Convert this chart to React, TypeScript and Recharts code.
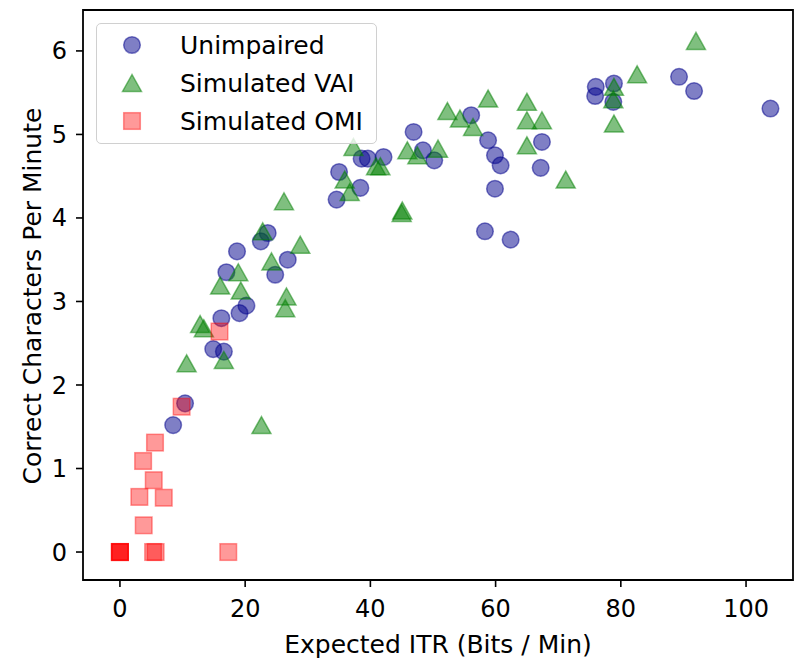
import { ScatterChart, Scatter, XAxis, YAxis, ReferenceArea, Legend, Label } from 'recharts'

// [Expected ITR, Correct characters per minute]
const unimpaired: [number, number][] = [
  [10.4, 1.78], [8.5, 1.52], [23.6, 3.82], [22.5, 3.72], [18.7, 3.6], [26.8, 3.5],
  [24.8, 3.32], [17.0, 3.35], [20.2, 2.95], [19.1, 2.86], [16.2, 2.8], [14.9, 2.43],
  [16.6, 2.4], [34.6, 4.22], [38.4, 4.36], [35.0, 4.55], [38.6, 4.71], [39.6, 4.71],
  [42.1, 4.73], [46.9, 5.03], [48.4, 4.81], [50.2, 4.69], [56.1, 5.23], [58.8, 4.93],
  [59.9, 4.75], [60.8, 4.63], [59.9, 4.35], [58.3, 3.84], [62.4, 3.74], [67.4, 4.91],
  [67.2, 4.6], [76.0, 5.57], [75.9, 5.46], [78.9, 5.61], [78.8, 5.39], [89.3, 5.69],
  [91.7, 5.52], [103.9, 5.31],
]

const simulatedVAI: [number, number][] = [
  [22.6, 1.52], [26.2, 4.2], [22.8, 3.84], [28.8, 3.68], [24.2, 3.48], [18.9, 3.35],
  [16.0, 3.19], [19.3, 3.13], [26.6, 3.06], [26.4, 2.92], [12.8, 2.73], [13.4, 2.68],
  [16.6, 2.3], [10.65, 2.26], [92.0, 6.12], [82.6, 5.72], [78.9, 5.57], [78.8, 5.42],
  [78.9, 5.13], [65.0, 5.39], [65.0, 5.17], [67.4, 5.17], [65.0, 4.87], [71.2, 4.46],
  [58.8, 5.43], [52.3, 5.28], [54.3, 5.19], [56.4, 5.09], [45.0, 4.06], [45.1, 4.09],
  [45.9, 4.81], [47.5, 4.75], [50.8, 4.83], [40.9, 4.62], [41.6, 4.62], [37.3, 4.85],
  [35.9, 4.46], [36.7, 4.31],
]

const simulatedOMI: [number, number][] = [
  [0, 0], [0, 0], [0, 0], [0, 0], [5.3, 0], [5.7, 0], [17.3, 0], [3.8, 0.32],
  [3.1, 0.66], [7.0, 0.65], [5.4, 0.86], [3.7, 1.09], [5.6, 1.31], [9.85, 1.74],
  [15.9, 2.64],
]

const xTicks = [0, 20, 40, 60, 80, 100]
const yTicks = [0, 1, 2, 3, 4, 5, 6]
const xDomain: [number, number] = [-5.9, 107.5]
const yDomain: [number, number] = [-0.335, 6.49]

const BLUE = '#00008b'
const GREEN = '#008000'
const RED = '#ff0000'
const FONT = '"DejaVu Sans", sans-serif'

const toPoints = (rows: [number, number][]) => rows.map(([x, y]) => ({ x, y }))

const Circle = (p: any) => (
  <circle cx={p.cx} cy={p.cy} r={8.3} fill={BLUE} fillOpacity={0.5}
    stroke={BLUE} strokeOpacity={0.5} strokeWidth={1.5} />
)

const Triangle = (p: any) => (
  <polygon
    points={`${p.cx},${p.cy - 8.5} ${p.cx - 9.5},${p.cy + 8.5} ${p.cx + 9.5},${p.cy + 8.5}`}
    fill={GREEN} fillOpacity={0.5} stroke={GREEN} strokeOpacity={0.5} strokeWidth={1.5}
    strokeLinejoin="miter" />
)

const Square = (p: any) => (
  <rect x={p.cx - 8.3} y={p.cy - 8.3} width={16.6} height={16.6}
    fill={RED} fillOpacity={0.4} stroke={RED} strokeOpacity={0.4} strokeWidth={1.5} />
)

const legendItems = [
  { label: 'Unimpaired', Shape: Circle },
  { label: 'Simulated VAI', Shape: Triangle },
  { label: 'Simulated OMI', Shape: Square },
]

function LegendBox() {
  return (
    <div style={{
      width: 281, height: 121, boxSizing: 'border-box', background: 'rgba(255,255,255,0.8)',
      border: '1.5px solid #d0d0d0', borderRadius: 5,
    }}>
      <svg width={279} height={119}>
        {legendItems.map(({ label, Shape }, i) => (
          <g key={label}>
            <Shape cx={35} cy={21 + i * 38} />
            <text x={83} y={21 + i * 38} dy="0.36em" fontFamily={FONT} fontSize={25} fill="#000">
              {label}
            </text>
          </g>
        ))}
      </svg>
    </div>
  )
}

export default function App() {
  const tickStyle = { fontFamily: FONT, fontSize: 24, fill: '#000' }
  return (
    <div style={{ position: 'absolute', left: 0, top: 0, background: '#fff' }}>
      <ScatterChart width={795} height={661} margin={{ top: 10, right: 2, bottom: 0, left: 0 }}>
        <XAxis type="number" dataKey="x" domain={xDomain} ticks={xTicks} allowDataOverflow
          height={81} tickSize={7} tickMargin={13} tick={tickStyle}
          axisLine={false} tickLine={{ stroke: '#000', strokeWidth: 1.6 }}>
          <Label content={() => (
            <text x={438} y={653} textAnchor="middle" fontFamily={FONT} fontSize={25} fill="#000">
              Expected ITR (Bits / Min)
            </text>
          )} />
        </XAxis>
        <YAxis type="number" dataKey="y" domain={yDomain} ticks={yTicks} allowDataOverflow
          width={83} tickSize={7} tickMargin={9} tick={tickStyle}
          axisLine={false} tickLine={{ stroke: '#000', strokeWidth: 1.6 }}>
          <Label content={() => (
            <text x={41} y={296} transform="rotate(-90 41 296)" textAnchor="middle"
              fontFamily={FONT} fontSize={25} fill="#000">
              Correct Characters Per Minute
            </text>
          )} />
        </YAxis>
        <ReferenceArea x1={xDomain[0]} x2={xDomain[1]} y1={yDomain[0]} y2={yDomain[1]}
          fill="none" stroke="#000" strokeWidth={1.8} fillOpacity={0} />
        <Scatter name="Unimpaired" data={toPoints(unimpaired)} shape={Circle} isAnimationActive={false} />
        <Scatter name="Simulated VAI" data={toPoints(simulatedVAI)} shape={Triangle} isAnimationActive={false} />
        <Scatter name="Simulated OMI" data={toPoints(simulatedOMI)} shape={Square} isAnimationActive={false} />
        <Legend layout="vertical" align="center" verticalAlign="middle" content={() => <LegendBox />}
          wrapperStyle={{ top: 23, left: 96, width: 281, height: 121 }} />
      </ScatterChart>
    </div>
  )
}
